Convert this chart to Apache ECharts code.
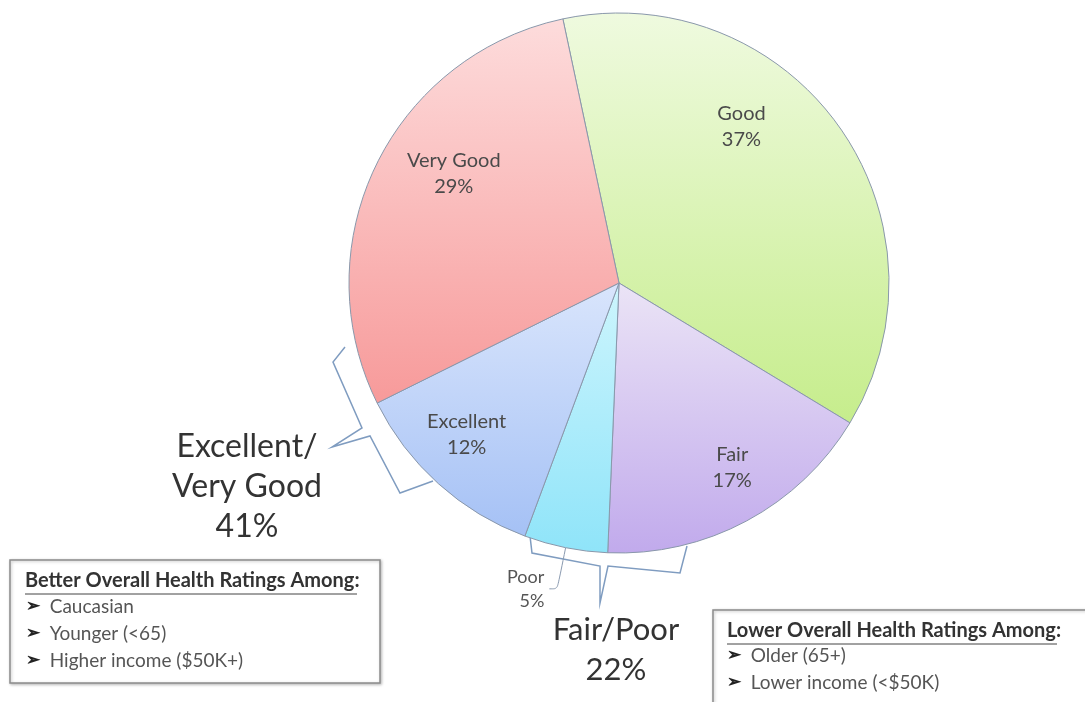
<!DOCTYPE html>
<html>
<head>
<meta charset="utf-8">
<script src="https://cdn.jsdelivr.net/npm/echarts@6/dist/echarts.min.js"></script>
<style>
  html, body { margin: 0; padding: 0; background: #fff; }
  #chart { width: 1085px; height: 702px; }
</style>
</head>
<body>
<div id="chart"></div>
<script>
// health rating shares, clockwise from the top
const categories = ['Good', 'Fair', 'Poor', 'Excellent', 'Very Good'];
const shares = [37, 17, 5, 12, 29];

const betterItems = ['Caucasian', 'Younger (<65)', 'Higher income ($50K+)'];
const lowerItems = ['Older (65+)', 'Lower income (<$50K)'];

const FONT = 'Lato, "Open Sans", sans-serif';

function grad(top, bottom) {
  return new echarts.graphic.LinearGradient(0, 0, 0, 1, [
    { offset: 0, color: top },
    { offset: 1, color: bottom },
  ]);
}

const sliceColors = {
  Good: grad('#effadf', '#c6ed8c'),
  Fair: grad('#ebe4f6', '#c1aaec'),
  Poor: grad('#cdf5fd', '#8fe4f9'),
  Excellent: grad('#d9e5fc', '#a5c1f5'),
  'Very Good': grad('#fddcdc', '#f79a9a'),
};

// nudges for the inside labels
const labelOffsets = {
  Good: [10, -77],
  Fair: [48, 63],
  Excellent: [-60, 49],
  'Very Good': [-41, -49],
};

const pieData = categories.map((name, i) => {
  const item = {
    name,
    value: shares[i],
    itemStyle: { color: sliceColors[name] },
  };
  if (name === 'Poor') {
    item.label = {
      position: 'outside',
      color: '#555',
      fontSize: 18,
      lineHeight: 24,
      align: 'center',
    };
    item.labelLine = { show: true, length: 42, length2: 8, smooth: 0.3 };
  } else {
    item.label = { offset: labelOffsets[name] };
  }
  return item;
});

function arrowList(items, x, y0, step) {
  return items.map((t, i) => ({
    type: 'text',
    left: x,
    top: y0 + i * step,
    style: {
      text: '{a|\u27A2}  ' + t,
      fill: '#555',
      font: '19px ' + FONT,
      rich: { a: { fontSize: 17, fontWeight: 'bold', fill: '#222' } },
    },
  }));
}

function bracket(points) {
  return {
    type: 'polyline',
    shape: { points },
    style: { stroke: '#7f9cc0', lineWidth: 1.5, fill: null },
  };
}

const chart = echarts.init(document.getElementById('chart'));
chart.setOption({
  backgroundColor: '#fff',
  animation: false,
  series: [
    {
      type: 'pie',
      center: [619, 283],
      radius: 270,
      startAngle: 102,
      clockwise: true,
      avoidLabelOverlap: false,
      itemStyle: { borderColor: '#8a98ab', borderWidth: 1 },
      label: {
        position: 'inside',
        formatter: '{b}\n{c}%',
        color: '#4a4a4a',
        fontFamily: FONT,
        fontSize: 20,
        lineHeight: 26,
      },
      labelLine: { lineStyle: { color: '#8a9ab0', width: 1 } },
      data: pieData,
    },
  ],
  graphic: [
    // brace beside Excellent / Very Good
    bracket([[345, 347], [333, 362], [362, 428], [332, 447], [370, 436], [400, 493], [433, 481]]),
    // brace under Poor / Fair
    bracket([[530, 536], [532, 553], [600, 566], [600, 603], [608, 566], [680, 573], [687, 546]]),
    {
      type: 'text',
      x: 247,
      y: 427,
      style: {
        text: 'Excellent/\nVery Good\n41%',
        fill: '#333',
        font: '32px ' + FONT,
        lineHeight: 40,
        align: 'center',
        verticalAlign: 'top',
      },
    },
    {
      type: 'text',
      x: 616,
      y: 610,
      style: {
        text: 'Fair/Poor\n22%',
        fill: '#333',
        font: '31px ' + FONT,
        lineHeight: 40,
        align: 'center',
        verticalAlign: 'top',
      },
    },
    // left box
    {
      type: 'rect',
      shape: { x: 10, y: 560, width: 370, height: 123 },
      style: { fill: '#fff', stroke: '#8c8c8c', lineWidth: 1.5, shadowBlur: 3, shadowColor: 'rgba(0,0,0,0.25)', shadowOffsetX: 1, shadowOffsetY: 1 },
    },
    {
      type: 'text',
      left: 25,
      top: 571,
      style: { text: 'Better Overall Health Ratings Among:', fill: '#333', font: 'bold 20px ' + FONT },
    },
    { type: 'line', shape: { x1: 25, y1: 594, x2: 357, y2: 594 }, style: { stroke: '#444', lineWidth: 1 } },
    ...arrowList(betterItems, 26, 597, 27),
    // right box
    {
      type: 'rect',
      shape: { x: 713, y: 610, width: 380, height: 100 },
      style: { fill: '#fff', stroke: '#8c8c8c', lineWidth: 1.5, shadowBlur: 3, shadowColor: 'rgba(0,0,0,0.25)', shadowOffsetX: 1, shadowOffsetY: 1 },
    },
    {
      type: 'text',
      left: 727,
      top: 621,
      style: { text: 'Lower Overall Health Ratings Among:', fill: '#333', font: 'bold 20px ' + FONT },
    },
    { type: 'line', shape: { x1: 727, y1: 644, x2: 1057, y2: 644 }, style: { stroke: '#444', lineWidth: 1 } },
    ...arrowList(lowerItems, 727, 646, 27),
  ],
});
</script>
</body>
</html>
